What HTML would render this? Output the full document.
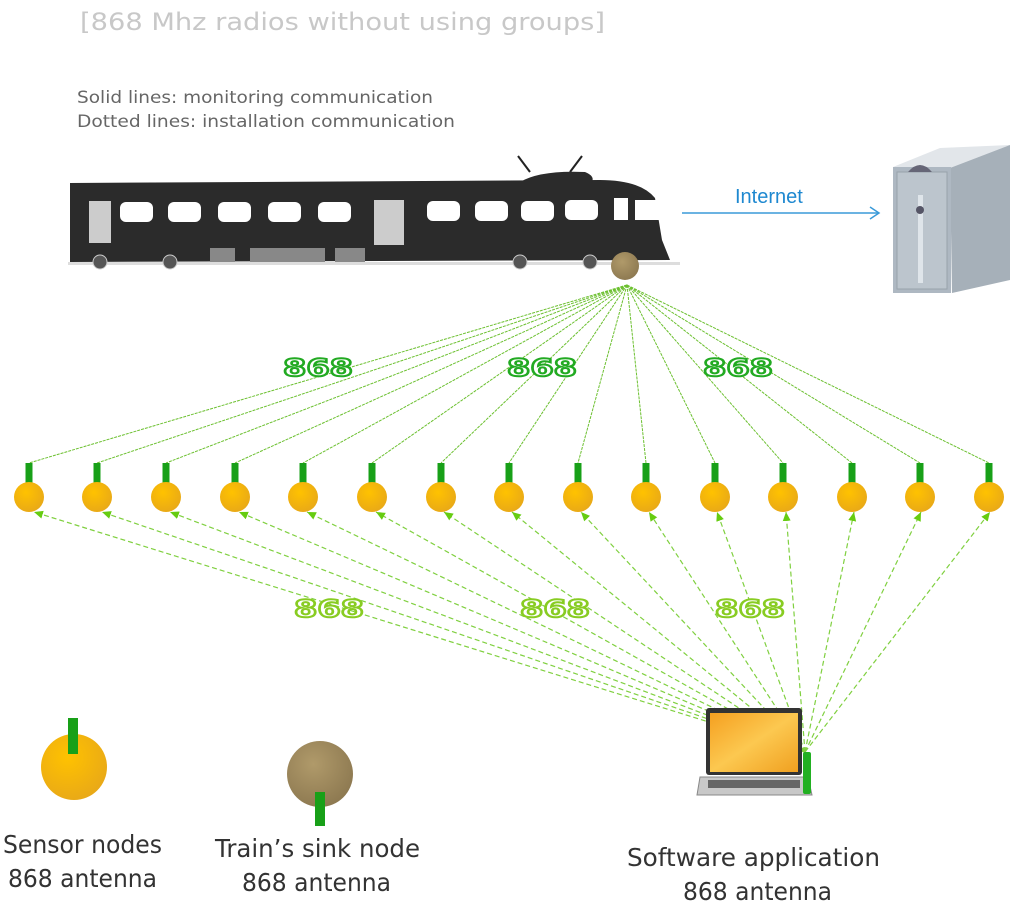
<!DOCTYPE html>
<html><head><style>
body{margin:0;background:#fff;}
svg{display:block;font-family:"Liberation Sans",sans-serif;}
</style></head><body>
<svg width="1024" height="909" viewBox="0 0 1024 909" xmlns="http://www.w3.org/2000/svg">
<defs>
<radialGradient id="sg" cx="0.4" cy="0.35" r="0.7"><stop offset="0" stop-color="#ffc200"/><stop offset="1" stop-color="#e8a818"/></radialGradient>
<radialGradient id="bg" cx="0.4" cy="0.35" r="0.7"><stop offset="0" stop-color="#b09a6a"/><stop offset="1" stop-color="#8c7850"/></radialGradient>
<linearGradient id="scr" x1="0" y1="0" x2="1" y2="1"><stop offset="0" stop-color="#f5a020"/><stop offset="0.5" stop-color="#fcc850"/><stop offset="1" stop-color="#f0a020"/></linearGradient>
<marker id="ar" markerWidth="10" markerHeight="10" refX="9" refY="4" orient="auto" markerUnits="userSpaceOnUse"><path d="M0,0L9,4L0,8z" fill="#66cc11"/></marker>
</defs>
<text x="80" y="30" font-size="24" fill="#c8c8c8" font-family="DejaVu Sans, sans-serif" textLength="525" lengthAdjust="spacingAndGlyphs">[868 Mhz radios without using groups]</text>
<text x="77" y="103" font-size="17" fill="#666" font-family="DejaVu Sans, sans-serif" textLength="356" lengthAdjust="spacingAndGlyphs">Solid lines: monitoring communication</text>
<text x="77" y="127" font-size="17" fill="#666" font-family="DejaVu Sans, sans-serif" textLength="378" lengthAdjust="spacingAndGlyphs">Dotted lines: installation communication</text>

<!-- train -->
<g>
<line x1="530" y1="172" x2="518" y2="156" stroke="#222" stroke-width="2"/>
<line x1="570" y1="172" x2="582" y2="156" stroke="#222" stroke-width="2"/>
<path d="M70,183 L600,180 Q640,180 655,198 L662,240 L670,260 L70,262 Z" fill="#2b2b2b"/>
<path d="M520,182 Q540,170 585,172 Q595,176 592,182 Z" fill="#2b2b2b"/>
<rect x="68" y="262" width="612" height="3" fill="#ddd"/>
<g fill="#fff">
<rect x="89" y="201" width="22" height="42" fill="#ccc"/>
<rect x="120" y="202" width="33" height="20" rx="6"/>
<rect x="168" y="202" width="33" height="20" rx="6"/>
<rect x="218" y="202" width="33" height="20" rx="6"/>
<rect x="268" y="202" width="33" height="20" rx="6"/>
<rect x="318" y="202" width="33" height="20" rx="6"/>
<rect x="374" y="200" width="30" height="45" fill="#ccc"/>
<rect x="427" y="201" width="33" height="20" rx="6"/>
<rect x="475" y="201" width="33" height="20" rx="6"/>
<rect x="521" y="201" width="33" height="20" rx="6"/>
<rect x="565" y="200" width="33" height="20" rx="6"/>
<rect x="614" y="198" width="14" height="22"/>
<rect x="635" y="200" width="24" height="20"/>
</g>
<g fill="#888"><rect x="210" y="248" width="25" height="14"/><rect x="250" y="248" width="75" height="14"/><rect x="335" y="248" width="30" height="14"/></g>
<g fill="#555" stroke="#ccc"><circle cx="100" cy="262" r="7"/><circle cx="170" cy="262" r="7"/><circle cx="520" cy="262" r="7"/><circle cx="590" cy="262" r="7"/></g>
</g>

<!-- internet -->
<line x1="682" y1="213" x2="878" y2="213" stroke="#3a9ad8" stroke-width="1.5"/>
<path d="M870,207 L879,213 L870,219" fill="none" stroke="#3a9ad8" stroke-width="1.5"/>
<text x="735" y="203" font-size="20" fill="#1e88d0">Internet</text>

<!-- server -->
<path d="M893,167 L940,148 L1010,145 L950,168 Z" fill="#e2e6ea"/>
<path d="M950,168 L1010,145 L1010,280 L952,293 Z" fill="#a6b0b9"/>
<rect x="893" y="167" width="58" height="126" fill="#aeb8c2"/>
<rect x="897" y="172" width="50" height="117" fill="#bcc5cd" stroke="#98a2ab"/>
<rect x="918" y="195" width="5" height="88" fill="#dfe5ea"/>
<circle cx="920" cy="210" r="4" fill="#556"/>
<path d="M908,172 Q920,158 932,172 Z" fill="#667"/>

<!-- solid lines to sink -->
<g stroke="#6cc030" stroke-width="1" stroke-dasharray="3,1" fill="none">
<line x1="627" y1="285" x2="29" y2="463"/><line x1="627" y1="285" x2="97" y2="463"/><line x1="627" y1="285" x2="166" y2="463"/><line x1="627" y1="285" x2="235" y2="463"/><line x1="627" y1="285" x2="303" y2="463"/><line x1="627" y1="285" x2="372" y2="463"/><line x1="627" y1="285" x2="441" y2="463"/><line x1="627" y1="285" x2="509" y2="463"/><line x1="627" y1="285" x2="578" y2="463"/><line x1="627" y1="285" x2="646" y2="463"/><line x1="627" y1="285" x2="715" y2="463"/><line x1="627" y1="285" x2="783" y2="463"/><line x1="627" y1="285" x2="852" y2="463"/><line x1="627" y1="285" x2="920" y2="463"/><line x1="627" y1="285" x2="989" y2="463"/>
</g>
<circle cx="625" cy="266" r="14" fill="url(#bg)"/>

<!-- dashed lines to laptop -->
<g stroke="#80d040" stroke-width="1.2" stroke-dasharray="5,3" fill="none" marker-end="url(#ar)">
<line x1="805" y1="752" x2="34" y2="512"/><line x1="805" y1="752" x2="102" y2="512"/><line x1="805" y1="752" x2="170" y2="512"/><line x1="805" y1="752" x2="239" y2="512"/><line x1="805" y1="752" x2="307" y2="512"/><line x1="805" y1="752" x2="376" y2="512"/><line x1="805" y1="752" x2="444" y2="512"/><line x1="805" y1="752" x2="512" y2="512"/><line x1="805" y1="752" x2="581" y2="512"/><line x1="805" y1="752" x2="649" y2="512"/><line x1="805" y1="752" x2="717" y2="512"/><line x1="805" y1="752" x2="786" y2="512"/><line x1="805" y1="752" x2="854" y2="512"/><line x1="805" y1="752" x2="921" y2="512"/><line x1="805" y1="752" x2="990" y2="512"/>
</g>

<!-- 868 labels -->
<g font-size="24" font-weight="bold" fill="#fff" stroke="#22aa22" stroke-width="2" font-family="DejaVu Sans, sans-serif">
<text x="283" y="376" textLength="70" lengthAdjust="spacingAndGlyphs">868</text><text x="507" y="376" textLength="70" lengthAdjust="spacingAndGlyphs">868</text><text x="703" y="376" textLength="70" lengthAdjust="spacingAndGlyphs">868</text>
</g>
<g font-size="24" font-weight="bold" fill="#fff" stroke="#88cc22" stroke-width="2" font-family="DejaVu Sans, sans-serif">
<text x="294" y="617" textLength="70" lengthAdjust="spacingAndGlyphs">868</text><text x="520" y="617" textLength="70" lengthAdjust="spacingAndGlyphs">868</text><text x="715" y="617" textLength="70" lengthAdjust="spacingAndGlyphs">868</text>
</g>

<!-- sensors -->
<g>
<g transform="translate(29,0)"><rect x="-3.5" y="463" width="7" height="22" fill="#18a018"/><circle cx="0" cy="497" r="15" fill="url(#sg)"/></g>
<g transform="translate(97,0)"><rect x="-3.5" y="463" width="7" height="22" fill="#18a018"/><circle cx="0" cy="497" r="15" fill="url(#sg)"/></g>
<g transform="translate(166,0)"><rect x="-3.5" y="463" width="7" height="22" fill="#18a018"/><circle cx="0" cy="497" r="15" fill="url(#sg)"/></g>
<g transform="translate(235,0)"><rect x="-3.5" y="463" width="7" height="22" fill="#18a018"/><circle cx="0" cy="497" r="15" fill="url(#sg)"/></g>
<g transform="translate(303,0)"><rect x="-3.5" y="463" width="7" height="22" fill="#18a018"/><circle cx="0" cy="497" r="15" fill="url(#sg)"/></g>
<g transform="translate(372,0)"><rect x="-3.5" y="463" width="7" height="22" fill="#18a018"/><circle cx="0" cy="497" r="15" fill="url(#sg)"/></g>
<g transform="translate(441,0)"><rect x="-3.5" y="463" width="7" height="22" fill="#18a018"/><circle cx="0" cy="497" r="15" fill="url(#sg)"/></g>
<g transform="translate(509,0)"><rect x="-3.5" y="463" width="7" height="22" fill="#18a018"/><circle cx="0" cy="497" r="15" fill="url(#sg)"/></g>
<g transform="translate(578,0)"><rect x="-3.5" y="463" width="7" height="22" fill="#18a018"/><circle cx="0" cy="497" r="15" fill="url(#sg)"/></g>
<g transform="translate(646,0)"><rect x="-3.5" y="463" width="7" height="22" fill="#18a018"/><circle cx="0" cy="497" r="15" fill="url(#sg)"/></g>
<g transform="translate(715,0)"><rect x="-3.5" y="463" width="7" height="22" fill="#18a018"/><circle cx="0" cy="497" r="15" fill="url(#sg)"/></g>
<g transform="translate(783,0)"><rect x="-3.5" y="463" width="7" height="22" fill="#18a018"/><circle cx="0" cy="497" r="15" fill="url(#sg)"/></g>
<g transform="translate(852,0)"><rect x="-3.5" y="463" width="7" height="22" fill="#18a018"/><circle cx="0" cy="497" r="15" fill="url(#sg)"/></g>
<g transform="translate(920,0)"><rect x="-3.5" y="463" width="7" height="22" fill="#18a018"/><circle cx="0" cy="497" r="15" fill="url(#sg)"/></g>
<g transform="translate(989,0)"><rect x="-3.5" y="463" width="7" height="22" fill="#18a018"/><circle cx="0" cy="497" r="15" fill="url(#sg)"/></g>
</g>

<!-- laptop -->
<rect x="706" y="708" width="96" height="67" rx="3" fill="#333"/>
<rect x="710" y="713" width="88" height="59" fill="url(#scr)"/>
<path d="M700,777 L808,777 L812,795 L697,795 Z" fill="#c8c8c8" stroke="#888"/>
<rect x="708" y="780" width="92" height="8" fill="#666"/>
<rect x="803" y="752" width="8" height="42" rx="2" fill="#22b022"/>

<!-- legend -->
<circle cx="74" cy="767" r="33" fill="url(#sg)"/>
<rect x="68" y="718" width="10" height="36" fill="#18a018"/>
<circle cx="320" cy="774" r="33" fill="url(#bg)"/>
<rect x="315" y="792" width="10" height="34" fill="#18a018"/>
<g font-size="25" fill="#333" font-family="DejaVu Sans, sans-serif">
<text x="3" y="853" textLength="159" lengthAdjust="spacingAndGlyphs">Sensor nodes</text><text x="8" y="887" textLength="149" lengthAdjust="spacingAndGlyphs">868 antenna</text>
<text x="215" y="857" textLength="205" lengthAdjust="spacingAndGlyphs">Train’s sink node</text><text x="242" y="891" textLength="149" lengthAdjust="spacingAndGlyphs">868 antenna</text>
<text x="627" y="866" textLength="253" lengthAdjust="spacingAndGlyphs">Software application</text><text x="683" y="900" textLength="149" lengthAdjust="spacingAndGlyphs">868 antenna</text>
</g>
</svg>
</body></html>
